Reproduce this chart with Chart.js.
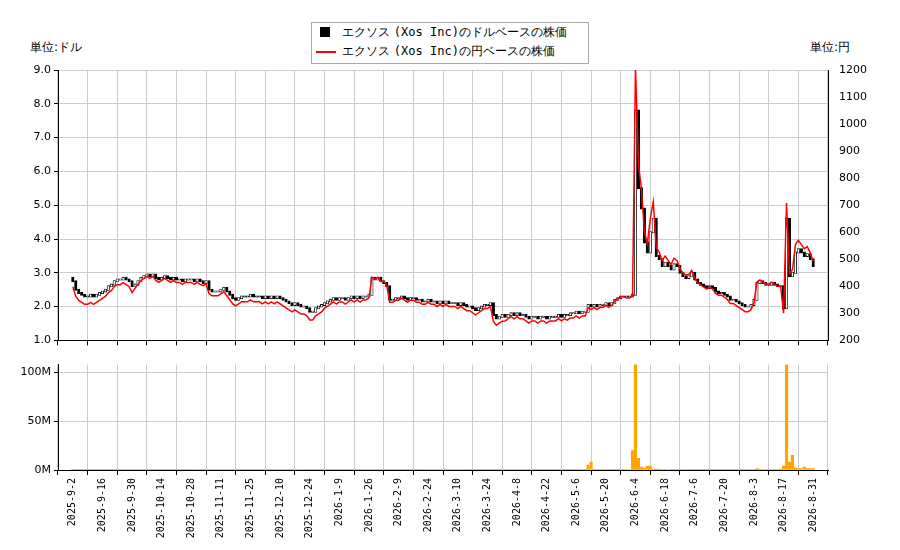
<!DOCTYPE html>
<html lang="ja">
<head>
<meta charset="UTF-8">
<title>エクソス (Xos Inc) 株価</title>
<script src="https://cdn.jsdelivr.net/npm/chart.js"></script>
<style>
  body { margin: 0; background: #fff; font-family: "DejaVu Sans", sans-serif; }
  #wrap { position: relative; width: 900px; height: 550px; }
  canvas { position: absolute; left: 0; }
  .unit { position: absolute; top: 39px; font-size: 12px; }
  #legend { position: absolute; left: 311px; top: 22px; width: 276px; height: 40px; border: 1px solid #aaa;
            font-size: 12px; background: #fff; z-index: 2; }
  #legend div { height: 19px; line-height: 19px; padding-left: 30px; position: relative; }
  .mono { font-family: "DejaVu Sans Mono", monospace; }
  .sq { position: absolute; left: 8px; top: 4px; width: 10px; height: 10px; background: #000; }
  .ln { position: absolute; left: 4px; top: 9px; width: 20px; height: 2px; background: red; }
</style>
</head>
<body>
<div id="wrap">
  <div class="unit" style="left:30px">単位:ドル</div>
  <div class="unit" style="left:810px">単位:円</div>
  <div id="legend">
    <div><span class="sq"></span>エクソス <span class="mono">(Xos Inc)</span>のドルベースの株価</div>
    <div><span class="ln"></span>エクソス <span class="mono">(Xos Inc)</span>の円ベースの株価</div>
  </div>
  <canvas id="price" width="900" height="350" style="top:0"></canvas>
  <canvas id="vol" width="900" height="195" style="top:355px"></canvas>
</div>
<script>
// weekday closes (USD), from 2025-9-2 (holidays dropped below)
const closes = [
  2.75,2.5,2.4,2.35,
  2.3,2.3,2.35,2.3,2.35,
  2.4,2.45,2.5,2.6,2.65,
  2.75,2.8,2.8,2.85,2.8,
  2.75,2.6,2.65,2.75,2.85,
  2.9,2.95,2.9,2.95,2.85,
  2.8,2.85,2.9,2.85,2.8,
  2.85,2.8,2.8,2.75,2.8,
  2.8,2.8,2.75,2.8,2.75,
  2.7,2.75,2.5,2.45,2.45,
  2.45,2.5,2.55,2.45,2.35,
  2.25,2.2,2.25,2.3,2.3,
  2.3,2.35,2.3,2.35,2.3,
  2.3,2.25,2.3,2.25,2.3,
  2.25,2.3,2.25,2.2,2.15,
  2.1,2.05,2.1,2.05,2.0,
  2.0,1.95,1.85,1.8,1.85,
  1.95,2.0,2.05,2.05,2.1,
  2.15,2.2,2.25,2.2,2.25,
  2.25,2.2,2.25,2.3,2.25,
  2.25,2.3,2.25,2.3,2.3,
  2.35,2.85,2.8,2.85,2.75,
  2.7,2.6,2.2,2.2,2.25,
  2.25,2.3,2.25,2.2,2.25,
  2.2,2.25,2.2,2.2,2.15,
  2.15,2.2,2.15,2.15,2.1,
  2.15,2.1,2.15,2.1,2.1,
  2.1,2.05,2.1,2.05,2.0,
  2.0,1.95,1.9,1.95,2.0,
  2.05,2.05,2.1,1.75,1.65,
  1.7,1.75,1.7,1.75,1.8,
  1.8,1.75,1.8,1.75,1.75,
  1.7,1.65,1.7,1.7,1.65,
  1.7,1.7,1.65,1.7,1.7,
  1.7,1.75,1.7,1.75,1.75,
  1.8,1.8,1.85,1.8,1.85,
  1.85,2.05,2.0,2.05,2.0,
  2.05,2.05,2.1,2.05,2.1,
  2.15,2.2,2.25,2.3,2.3,
  2.3,2.3,2.35,7.8,5.5,
  4.9,3.9,3.6,4.2,4.6,
  3.5,3.4,3.2,3.3,3.1,
  3.2,3.1,3.25,3.2,3.0,
  2.9,2.85,2.9,3.0,2.95,
  2.8,2.7,2.65,2.6,2.55,
  2.6,2.55,2.45,2.4,2.4,
  2.35,2.3,2.2,2.2,2.15,
  2.1,2.05,2.0,2.0,2.05,
  2.2,2.7,2.75,2.7,2.65,
  2.65,2.7,2.65,2.6,2.6,
  1.95,4.6,2.9,3.0,3.6,
  3.7,3.6,3.5,3.55,3.4,
  3.2
];
// weekday volume (millions)
const volumes = [
  0.4,0.3,0.3,0.2, 0.2,0.2,0.2,0.2,0.2, 0.3,0.2,0.3,0.3,0.2, 0.3,0.3,0.2,0.2,0.2,
  0.2,0.3,0.2,0.2,0.3, 0.3,0.2,0.2,0.2,0.2, 0.2,0.2,0.2,0.2,0.2, 0.2,0.2,0.2,0.2,0.2,
  0.2,0.2,0.2,0.2,0.2, 0.2,0.2,0.3,0.2,0.2, 0.2,0.2,0.2,0.2,0.2, 0.2,0.2,0.2,0.2,0.2,
  0.2,0.2,0.2,0.2,0.2, 0.2,0.2,0.2,0.2,0.2, 0.2,0.2,0.2,0.2,0.2, 0.2,0.2,0.2,0.2,0.2,
  0.2,0.2,0.3,0.2,0.2, 0.2,0.2,0.2,0.2,0.2, 0.2,0.2,0.2,0.2,0.2, 0.2,0.2,0.2,0.2,0.2,
  0.2,0.2,0.2,0.2,0.2, 0.3,0.8,0.4,0.3,0.3, 0.2,0.2,0.3,0.2,0.2, 0.2,0.2,0.2,0.2,0.2,
  0.2,0.2,0.2,0.2,0.2, 0.2,0.2,0.2,0.2,0.2, 0.2,0.2,0.2,0.2,0.2, 0.2,0.2,0.2,0.2,0.2,
  0.2,0.2,0.2,0.2,0.2, 0.2,0.2,0.2,0.4,0.3, 0.2,0.2,0.2,0.2,0.2, 0.2,0.2,0.2,0.2,0.2,
  0.2,0.2,0.2,0.2,0.2, 0.2,0.2,0.2,0.2,0.2, 0.2,0.2,0.2,0.2,0.2, 0.3,0.2,0.3,0.2,0.2,
  0.2,5.0,8.0,1.0,0.3, 0.3,0.3,0.3,0.3,0.3, 0.3,0.3,0.3,0.3,0.4,
  0.5,0.5,20.0,130.0,12.0, 3.0,2.0,4.0,4.0,1.0, 1.0,1.0,0.8,0.6,0.5,
  0.5,0.4,0.4,0.4,0.4, 0.3,0.3,0.3,0.3,0.3, 0.3,0.3,0.3,0.3,0.3, 0.3,0.3,0.3,0.3,0.3,
  0.3,0.3,0.3,0.3,0.3, 0.3,0.3,0.3,0.3,0.3, 0.8,1.5,1.0,0.5,0.4, 0.3,0.3,0.3,0.3,1.0,
  4.0,130.0,8.0,15.0,2.0, 1.5,1.5,3.0,1.5,1.5, 1.5
];
// market holidays (no trading)
const holidays = ['2025-11-27','2025-12-25','2026-1-1','2026-1-19','2026-2-16','2026-4-3','2026-5-25','2026-6-19','2026-7-3'];
// USD/JPY by month, Sep 2025 .. Aug 2026
const fxMonths = ['2025-9','2025-10','2025-11','2025-12','2026-1','2026-2','2026-3','2026-4','2026-5','2026-6','2026-7','2026-8'];
const fxRates = [145, 148, 149, 149, 152, 155, 155, 160, 157, 155, 153, 154];

function fmt(d) { return d.getFullYear() + '-' + (d.getMonth() + 1) + '-' + d.getDate(); }

// weekday dates matching the arrays
const wdays = [];
for (let d = new Date(2025, 8, 2); wdays.length < closes.length; d.setDate(d.getDate() + 1)) {
  if (d.getDay() !== 0 && d.getDay() !== 6) wdays.push(new Date(d));
}

const labels = [], bodies = [], bodyFill = [], yen = [], vol = [];
let prev = 2.85;
wdays.forEach((d, i) => {
  if (holidays.includes(fmt(d))) return;
  const x = labels.length;
  const c = closes[i], o = prev;
  prev = c;
  labels.push(fmt(d));
  bodies.push({ x, y: [Math.min(o, c) - 0.02, Math.max(o, c) + 0.02] });
  bodyFill.push(c >= o ? '#fff' : '#000');
  const rate = fxRates[fxMonths.indexOf(d.getFullYear() + '-' + (d.getMonth() + 1))];
  yen.push({ x, y: c * rate });
  vol.push({ x, y: volumes[i] });
});
const last = labels.length - 1;

const font = { family: 'DejaVu Sans', size: 11 };
const xCommon = {
  type: 'linear', min: 0, max: last,
  afterBuildTicks: ax => { const t = []; for (let v = 0; v <= last; v += 10) t.push({ value: v }); ax.ticks = t; },
  grid: { color: '#ccc', tickLength: 5, tickColor: '#000' },
  border: { color: '#000' }
};

new Chart(document.getElementById('price'), {
  data: {
    datasets: [
      { type: 'line', data: yen, yAxisID: 'yr', borderColor: 'red', borderWidth: 1.5, pointRadius: 0, tension: 0 },
      { type: 'bar', data: bodies, yAxisID: 'y', backgroundColor: bodyFill, borderColor: '#000', borderWidth: 0.8,
        borderSkipped: false, barThickness: 2.5 }
    ]
  },
  options: {
    responsive: false, animation: false,
    layout: { padding: { top: 70 } },
    plugins: { legend: { display: false }, tooltip: { enabled: false } },
    scales: {
      x: Object.assign({}, xCommon, { ticks: { display: false }, afterFit: s => { s.height = 8; } }),
      y: { position: 'left', min: 1, max: 9,
           ticks: { stepSize: 1, color: '#000', font, callback: v => v.toFixed(1) },
           grid: { color: '#ccc', tickColor: '#000', tickLength: 4 }, border: { color: '#000' },
           afterFit: s => { s.width = 58; } },
      yr: { position: 'right', min: 200, max: 1200,
            ticks: { stepSize: 100, color: '#000', font, callback: v => String(v) },
            grid: { display: false, drawOnChartArea: false }, border: { color: '#000' },
            afterFit: s => { s.width = 72; } }
    }
  }
});

new Chart(document.getElementById('vol'), {
  type: 'bar',
  data: { datasets: [{ data: vol, backgroundColor: 'orange', barThickness: 2.5 }] },
  options: {
    responsive: false, animation: false,
    layout: { padding: { top: 5, right: 72 } },
    plugins: { legend: { display: false }, tooltip: { enabled: false } },
    scales: {
      x: Object.assign({}, xCommon, {
        ticks: { color: '#000', font: { family: 'DejaVu Sans Mono', size: 10 }, maxRotation: 90, minRotation: 90,
                 autoSkip: false, callback: v => labels[v] },
        afterFit: s => { s.height = 80; } }),
      y: { min: 0, max: 108,
           afterBuildTicks: ax => { ax.ticks = [0, 50, 100].map(v => ({ value: v })); },
           ticks: { color: '#000', font, callback: v => v + 'M' },
           grid: { color: '#ccc', tickColor: '#000', tickLength: 4 }, border: { color: '#000' },
           afterFit: s => { s.width = 58; } }
    }
  }
});
</script>
</body>
</html>
